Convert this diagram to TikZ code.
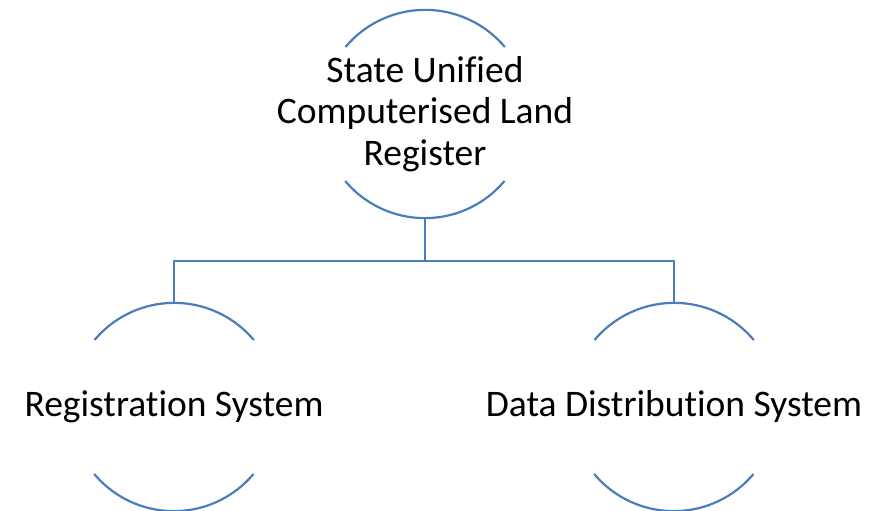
\documentclass[tikz,border=0pt]{standalone}
\usepackage{fontspec}
\setmainfont{Carlito}[Ligatures=NoCommon]
\definecolor{ringblue}{HTML}{4A7EBB}
\tikzset{
  ring/.style={circle, minimum size=208pt, inner sep=0pt, draw=none},
  arcline/.style={draw=ringblue, line width=2.2pt},
  lbl/.style={font=\fontsize{37.5}{41.5}\selectfont, align=center, text=black}
}
\begin{document}
\begin{tikzpicture}[x=1pt,y=-1pt]
  \useasboundingbox (0,0) rectangle (871,511);
  \node[ring] (ring0) at (425,114) {};
  \node[ring] (ring1) at (174,407) {};
  \node[ring] (ring2) at (674,407) {};
  \node[lbl] (root) at (ring0.center) {State Unified\\Computerised Land\\Register};
  \node[lbl] (reg) at (ring1.center) {Registration System};
  \node[lbl] (dist) at (ring2.center) {Data Distribution System};
  % open rings, arcs only at top and bottom
  \foreach \r in {ring0,ring1,ring2}{
    \draw[arcline] (\r.40) arc (40:140:104pt);
    \draw[arcline] (\r.220) arc (220:320:104pt);
  }
  \coordinate (bus) at (425,261);
  \begin{scope}[arcline]
    \draw (ring0.south) -- (bus);
    \draw (ring1.north) |- (bus) -| (ring2.north);
  \end{scope}
\end{tikzpicture}
\end{document}
